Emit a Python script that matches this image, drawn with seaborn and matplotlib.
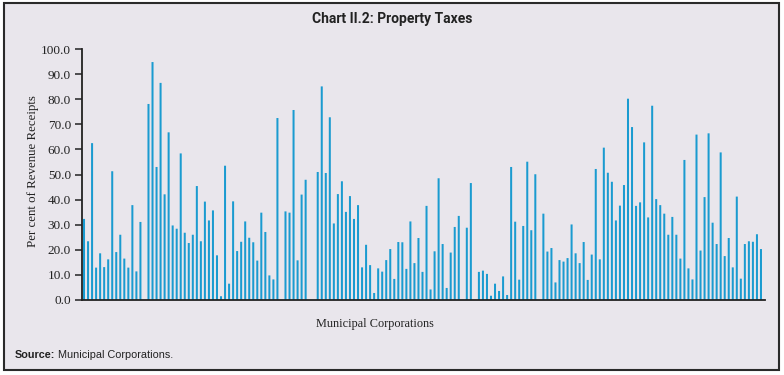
import matplotlib
matplotlib.use("Agg")
import matplotlib.pyplot as plt
from matplotlib.patches import Rectangle
import seaborn as sns
import pandas as pd

# Share of property taxes in revenue receipts (per cent), by municipal corporation
values = [
    32.3, 23.4, 62.5, 12.9, 18.6, 13.1, 16.2, 51.3, 19.1, 26.0,
    16.5, 12.9, 37.8, 11.4, 31.1, 0.0, 78.1, 94.8, 53.0, 86.5,
    42.1, 66.8, 29.7, 28.4, 58.4, 26.8, 22.7, 26.0, 45.4, 23.4,
    39.2, 31.7, 35.7, 17.8, 1.5, 53.5, 6.5, 39.3, 19.5, 23.2,
    31.3, 24.8, 23.0, 15.7, 34.8, 27.1, 9.8, 8.2, 72.5, 0.0,
    35.3, 34.8, 75.7, 15.8, 42.0, 47.9, 0.0, 0.0, 51.0, 85.1,
    50.6, 72.8, 30.5, 42.2, 47.3, 35.1, 41.4, 32.3, 37.8, 13.0,
    22.0, 13.9, 2.8, 12.6, 11.3, 15.9, 20.3, 8.4, 23.1, 23.0,
    12.4, 31.3, 14.7, 24.7, 11.2, 37.5, 4.2, 19.4, 48.5, 22.3,
    4.8, 18.9, 29.1, 33.5, 0.0, 28.8, 46.6, 0.0, 11.2, 11.7,
    10.4, 1.7, 6.5, 3.6, 9.4, 2.0, 53.0, 31.2, 8.1, 29.5,
    55.1, 27.8, 50.1, 0.0, 34.4, 19.3, 20.7, 7.0, 15.9, 15.3,
    16.7, 30.1, 18.6, 14.7, 23.1, 8.0, 18.1, 52.2, 16.2, 60.7,
    50.7, 47.1, 31.7, 37.6, 45.8, 80.2, 68.9, 37.5, 38.9, 62.8,
    32.9, 77.4, 40.2, 37.8, 34.4, 26.0, 33.1, 26.0, 16.5, 55.8,
    12.6, 8.2, 65.9, 19.7, 41.0, 66.4, 30.8, 22.3, 58.8, 17.5,
    24.7, 13.0, 41.2, 8.5, 22.3, 23.4, 23.2, 26.2, 20.3,
]
corporations = [f"MC{i + 1}" for i in range(len(values))]
yticks = [0, 10, 20, 30, 40, 50, 60, 70, 80, 90, 100]

title = "Chart II.2: Property Taxes"
ylabel = "Per cent of Revenue Receipts"
xlabel = "Municipal Corporations"

df = pd.DataFrame({"corp": corporations, "value": values})

sns.set_style("ticks")
plt.rcParams["font.family"] = ["DejaVu Sans"]

W, H = 784, 375
fig = plt.figure(figsize=(W / 100, H / 100), dpi=100)
fig.patch.set_facecolor("white")

bg = "#E9E6EC"
fig.patches.append(Rectangle((4 / W, 1 - 370 / H), 775 / W, 367 / H,
                             transform=fig.transFigure, facecolor=bg,
                             edgecolor="#2a2a2a", linewidth=1.5, zorder=-5))

ax = fig.add_axes([82 / W, 1 - 300 / H, (765 - 82) / W, (300 - 49) / H])
ax.set_zorder(2)
ax.patch.set_visible(False)

sns.barplot(data=df, x="corp", y="value", order=corporations, color="#1A9BD0",
            saturation=1, width=0.5, linewidth=0, edgecolor="none", ax=ax)
for p in ax.patches:
    p.set_snap(False)

ax.set_xlim(-0.5, len(values) + 0.0)
ax.set_ylim(0, 100)
ax.set_yticks(yticks)
ax.set_yticklabels([f"{t:.1f}" for t in yticks], family="Liberation Serif",
                   fontsize=9.5, color="#222222")
ax.set_xticks([])
ax.set_xlabel("")
ax.set_ylabel("")
ax.tick_params(axis="y", direction="out", length=5, width=1.1, color="#222222", pad=3)
for s in ["top", "right"]:
    ax.spines[s].set_visible(False)
for s in ["left", "bottom"]:
    ax.spines[s].set_color("#222222")
    ax.spines[s].set_linewidth(1.3)

fig.text(0.5, 1 - 19 / H, title, ha="center", va="center", fontsize=10,
         fontweight="bold", family=["Roboto", "DejaVu Sans"],
         color="#222222")
fig.text(33 / W, 1 - 171 / H, ylabel, rotation=90, ha="center", va="center",
         fontsize=9.3, family="Liberation Serif", color="#222222")
fig.text(375 / W, 1 - 324 / H, xlabel, ha="center", va="center",
         fontsize=8.8, family="Liberation Serif", color="#222222")

t1 = fig.text(15 / W, 1 - 355 / H, "Source:", ha="left", va="center", fontsize=7.8,
              fontweight="bold", family="Liberation Sans", color="#222222")
fig.canvas.draw()
bb = t1.get_window_extent()
fig.text(bb.x1 / W + 3 / W, 1 - 355 / H, "Municipal Corporations.", ha="left",
         va="center", fontsize=7.8, family="Liberation Sans", color="#222222")

fig.savefig("out.png", dpi=100, facecolor=fig.get_facecolor())
